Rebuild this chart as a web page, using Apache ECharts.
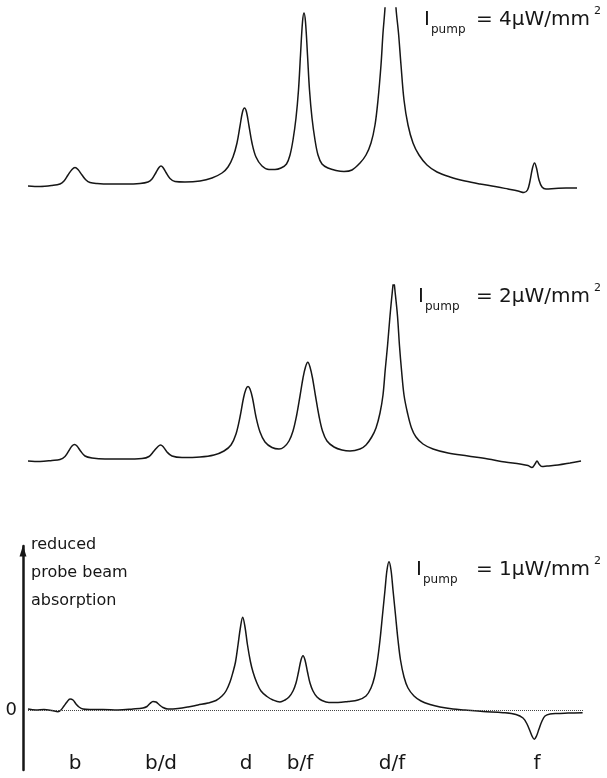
<!DOCTYPE html>
<html>

<head>
    <meta charset="UTF-8" />
    <title>pump power spectra</title>
    <script src="https://cdn.jsdelivr.net/npm/echarts@6/dist/echarts.min.js"></script>
    <style>
        html, body { margin: 0; padding: 0; background: #fff; }
        #chart { width: 607px; height: 778px; }
    </style>
</head>

<body>
    <div id="chart"></div>
</body>
<script type="text/javascript">
    // resonance labels and where they sit on the detuning axis (a.u.)
    var peakNames = ['b', 'b/d', 'd', 'b/f', 'd/f', 'f'];
    var peakPos = [47, 133, 218, 272, 364, 509];
    // pump intensity of each trace, top to bottom (μW/mm²)
    var pumpLevels = ['4', '2', '1'];
    var axisText = ['reduced', 'probe beam', 'absorption'];

    // trace 1: 4 μW/mm²
    var topX = [0, 12, 24, 32, 36, 40, 44, 47, 50, 54, 58, 62, 69, 82, 97, 112, 120, 124, 128, 131,
        133, 135, 138, 142, 147, 157, 172, 184, 194, 200, 205, 209, 212, 214.5, 216.5, 218.5, 221, 224, 228, 234,
        241, 247, 253, 258.5, 262, 265, 268, 270.5, 272.5, 274.5, 276, 277.5, 279.5, 281.5, 284, 287, 290, 294, 300, 308,
        316, 324, 332, 338, 343, 347, 350, 353, 355, 357, 359.5, 362.5, 365.5, 368, 370.5, 373, 376, 380, 385, 391,
        399, 409, 422, 437, 452, 467, 480, 490, 496, 499.5, 502, 504.5, 506.5, 508.5, 511, 514, 518, 527, 538, 549];
    var topY = [0, -0.5, 0.5, 2, 5, 11, 16.5, 18.5, 16.5, 11, 6, 3.5, 2.5, 2, 2, 2.5, 4, 7, 13.5, 18.5,
        20, 18.5, 13.5, 7.5, 4.5, 4, 5, 8, 13, 19, 29, 43, 60, 74, 78, 74, 60, 43, 29, 20,
        16.5, 16.5, 18, 22, 31, 46, 68, 96, 131, 164, 173, 164, 131, 96, 68, 46, 31, 22, 18, 15.5,
        14.5, 16, 23, 31, 43, 61, 86, 121, 153, 178, 226, 286, 226, 178, 153, 121, 86, 61, 43, 31,
        21, 14, 9, 5, 2, -0.5, -3, -5, -6.5, -4, 5, 18, 23, 18, 6, -1, -3, -2.5, -2, -2];

    // trace 2: 2 μW/mm²
    var midX = [0, 12, 24, 32, 37, 41, 44, 46.5, 49, 52.5, 57, 64, 77, 97, 114, 121, 126, 130, 132.5, 135,
        139, 144, 154, 172, 186, 196, 203, 208, 212, 215.5, 218, 220, 222, 224.5, 228, 232, 237, 244, 251, 256,
        261, 265, 268.5, 272, 275, 277.5, 279.8, 282, 284.5, 287.5, 291, 294.5, 299, 306, 314, 322, 332, 338, 343.7, 348,
        352, 355, 357.2, 359.5, 362, 364.2, 365.7, 367.2, 369.5, 371.5, 373.5, 376, 379.5, 383.5, 388, 395, 405, 420, 440, 460,
        477, 492, 500, 504, 507, 509, 511, 514, 519, 530, 542, 553];
    var midY = [0, -0.5, 0.5, 1.5, 4.5, 10.5, 15, 16.5, 15, 10, 5, 3, 2, 2, 2.5, 4.5, 10, 14.5, 16, 14.5,
        9, 5, 3.5, 4, 6, 10, 16, 27, 44, 63, 72, 74.5, 72, 63, 44, 29, 19, 13.5, 12, 14,
        20, 30, 45, 65, 83, 94, 98.7, 94, 83, 65, 45, 30, 20, 14, 11, 10, 12, 16, 24, 33,
        48, 66, 91, 115, 145, 168, 180, 168, 145, 115, 91, 66, 48, 33, 24, 17, 12, 8, 5, 2,
        -1, -3, -4.5, -6.5, -3, 0, -3, -5.5, -5, -4, -2, 0];

    // trace 3: 1 μW/mm²
    var lowX = [0, 8, 16, 24, 30, 33, 36, 39, 42, 45, 48, 51, 55, 62, 75, 90, 105, 115, 119, 122,
        125, 128, 131, 135, 140, 150, 160, 170, 180, 188, 194, 198, 202, 205, 207.5, 210, 212.5, 214.7, 217, 219.5,
        222.5, 225, 228.5, 233, 239, 245, 252, 257, 261, 265, 268, 270.5, 273, 275, 277, 279.5, 282, 285, 289, 294,
        301, 310, 320, 330, 338, 343, 346.5, 349.5, 352, 354.5, 357, 359, 361, 363, 365, 367.5, 370, 372.5, 376, 380,
        386, 393, 402, 412, 425, 437, 455, 475, 488, 495, 499, 502, 504.5, 506.3, 508.5, 511, 514, 517, 522, 530,
        540, 554.6];
    var lowY = [1, 0, 0.5, -0.5, -1.7, 0, 4, 8, 11, 10, 6, 3, 1, 0.5, 0.5, 0, 1, 2, 3.5, 6.5,
        8.5, 8, 5.5, 2.5, 1, 1.5, 3, 5, 7, 9.5, 14, 19, 28, 38, 48, 65, 83, 92.7, 83, 65,
        48, 38, 28, 19, 13.5, 10, 8, 10, 13, 19, 27, 38, 50, 54.3, 50, 38, 27, 19, 13, 9.5,
        7.5, 7.5, 8.5, 10, 14, 22, 33, 50, 70, 95, 120, 140, 148.3, 140, 120, 95, 70, 50, 33, 22,
        14, 9, 5.5, 3, 1, 0, -1.5, -2.7, -4.5, -8, -14, -21, -27, -29.3, -26, -19, -11, -6, -4, -3.5,
        -3, -2.7];

    var ink = '#161616';
    var fam = '"DejaVu Sans", sans-serif';

    function pairs(xs, ys) {
        return xs.map(function (x, i) { return [x, ys[i]]; });
    }

    //I_pump = nμW/mm² label, pieces placed one by one
    function pumpLabel(iX, mid, level) {
        var st = function (text, size) {
            return { text: text, fill: ink, font: size + 'px ' + fam, align: 'left', verticalAlign: 'middle' };
        };
        return [
            { type: 'text', x: iX, y: mid, style: st('I', 20) },
            { type: 'text', x: iX + 7, y: mid + 10, style: st('pump', 12) },
            { type: 'text', x: 476, y: mid, style: st('= ' + level + 'μW/mm', 20) },
            { type: 'text', x: 594, y: mid - 9, style: st('2', 11) }
        ];
    }

    function traceSeries(idx, data) {
        return {
            type: 'line',
            xAxisIndex: idx,
            yAxisIndex: idx,
            data: data,
            showSymbol: false,
            smooth: 0.35,
            clip: true,
            lineStyle: { color: ink, width: 1.5 },
            silent: true
        };
    }

    var hiddenX = { type: 'value', min: 0, max: 555, show: false };

    var graphics = []
        .concat(pumpLabel(424, 20, pumpLevels[0]))
        .concat(pumpLabel(418, 297, pumpLevels[1]))
        .concat(pumpLabel(416, 570, pumpLevels[2]));
    axisText.forEach(function (t, i) {
        graphics.push({
            type: 'text', x: 31, y: 545 + i * 28,
            style: { text: t, fill: ink, font: '16px ' + fam, align: 'left', verticalAlign: 'middle' }
        });
    });

    var lowSeries = traceSeries(2, pairs(lowX, lowY));
    //dotted zero line
    lowSeries.markLine = {
        silent: true,
        symbol: 'none',
        label: { show: false },
        lineStyle: { color: '#444', type: 'dotted', width: 1 },
        data: [{ yAxis: 0 }]
    };

    var myChart = echarts.init(document.getElementById('chart'), null, { renderer: 'canvas' });
    var option = {
        animation: false,
        backgroundColor: '#fff',
        grid: [
            { left: 28, right: 24, top: 8, height: 192, outerBoundsMode: 'none' },
            { left: 28, right: 24, top: 285, height: 200, outerBoundsMode: 'none' },
            { left: 28, right: 24, top: 546, height: 224, outerBoundsMode: 'none' }
        ],
        xAxis: [
            Object.assign({ gridIndex: 0 }, hiddenX),
            Object.assign({ gridIndex: 1 }, hiddenX),
            {
                gridIndex: 2, type: 'value', min: 0, max: 555,
                axisLine: { show: false, onZero: false },
                axisTick: { show: false },
                splitLine: { show: false },
                axisLabel: {
                    customValues: peakPos,
                    margin: -16,
                    color: ink,
                    fontSize: 20,
                    fontFamily: fam,
                    formatter: function (v) { return peakNames[peakPos.indexOf(v)]; }
                }
            }
        ],
        yAxis: [
            { gridIndex: 0, type: 'value', min: -14, max: 178, show: false },
            { gridIndex: 1, type: 'value', min: -24, max: 176, show: false },
            {
                gridIndex: 2, type: 'value', min: -60, max: 164,
                offset: 5,
                axisLine: {
                    show: true, onZero: false,
                    symbol: ['none', 'triangle'],
                    symbolSize: [7, 11],
                    symbolOffset: [0, -5],
                    lineStyle: { color: ink, width: 2.5 }
                },
                axisTick: { show: false },
                splitLine: { show: false },
                axisLabel: {
                    customValues: [0],
                    margin: 6,
                    color: ink,
                    fontSize: 18,
                    fontFamily: fam
                }
            }
        ],
        series: [
            traceSeries(0, pairs(topX, topY)),
            traceSeries(1, pairs(midX, midY)),
            lowSeries
        ],
        graphic: graphics
    };
    myChart.setOption(option);
</script>

</html>
